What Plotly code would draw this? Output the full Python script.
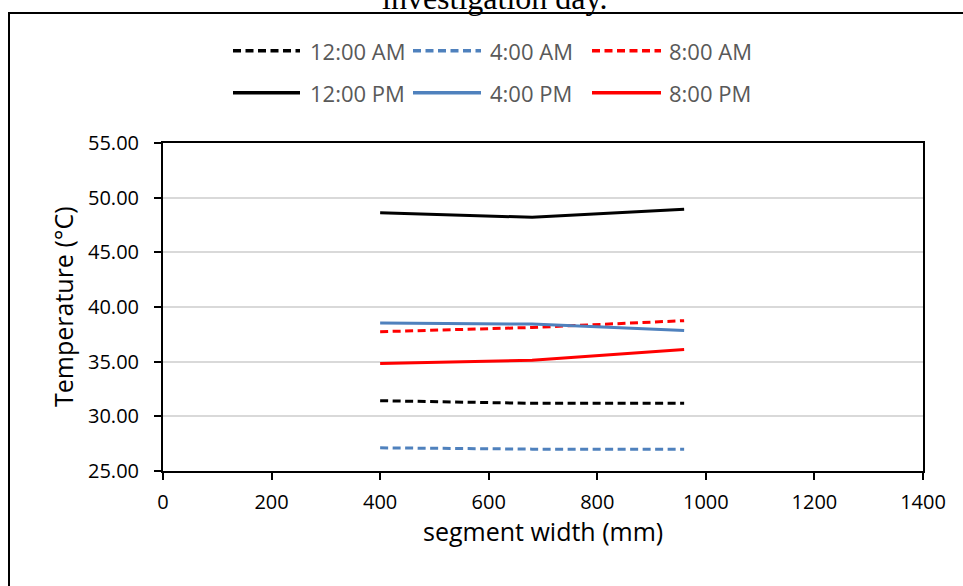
import plotly.graph_objects as go

# ---- data ----
widths = [400, 680, 960]
series_names = ["12:00 AM", "4:00 AM", "8:00 AM", "12:00 PM", "4:00 PM", "8:00 PM"]
temp_1200am = [31.43, 31.19, 31.19]
temp_0400am = [27.12, 27.00, 27.00]
temp_0800am = [37.74, 38.13, 38.75]
temp_1200pm = [48.63, 48.20, 48.94]
temp_0400pm = [38.53, 38.44, 37.86]
temp_0800pm = [34.83, 35.13, 36.11]
x_ticks = [0, 200, 400, 600, 800, 1000, 1200, 1400]
y_ticks = [25, 30, 35, 40, 45, 50, 55]

series_values = [temp_1200am, temp_0400am, temp_0800am,
                 temp_1200pm, temp_0400pm, temp_0800pm]
colors = ["#000000", "#4F81BD", "#FF0000", "#000000", "#4F81BD", "#FF0000"]
DASH = "8px,4.5px"
dashes = [DASH, DASH, DASH, "solid", "solid", "solid"]

W, H = 963, 586
ML, MR, MT, MB = 163, 40, 143, 115
PW, PH = W - ML - MR, H - MT - MB


def px(x):
    return (x - ML) / PW


def py(y):
    return (H - MB - y) / PH


FONT = "Open Sans"

fig = go.Figure()
for name, vals, c, d in zip(series_names, series_values, colors, dashes):
    fig.add_trace(go.Scatter(x=widths, y=vals, mode="lines", name=name,
                             line=dict(color=c, width=3, dash=d),
                             showlegend=False))

shapes = []
annotations = []

# outer chart border (extends past the right/bottom edge of the image)
shapes.append(dict(type="rect", xref="paper", yref="paper",
                   x0=px(9), x1=px(990), y0=py(610), y1=py(13),
                   line=dict(color="black", width=2), fillcolor="rgba(0,0,0,0)",
                   layer="above"))

# custom legend: 3 columns x 2 rows
col_line = [(233, 300, 308), (413, 481, 488), (592, 661, 667)]
row_y = [50.7, 92.7]
for i, (name, c, d) in enumerate(zip(series_names, colors, dashes)):
    r, k = divmod(i, 3)
    x0, x1, xt = col_line[k]
    y = row_y[r]
    shapes.append(dict(type="line", xref="paper", yref="paper",
                       x0=px(x0), x1=px(x1), y0=py(y), y1=py(y),
                       line=dict(color=c, width=3.5, dash=d)))
    annotations.append(dict(text=name, xref="paper", yref="paper",
                            x=px(xt), y=py(y), xanchor="left", yanchor="middle",
                            showarrow=False,
                            font=dict(family=FONT, size=22, color="#595959")))

# title (cut off at the top in the reference)
annotations.append(dict(text="investigation day.", xref="paper", yref="paper",
                        x=px(494), y=py(18), xanchor="center", yanchor="bottom",
                        showarrow=False,
                        font=dict(family="Liberation Serif", size=32, color="black")))

# axis titles
annotations.append(dict(text="segment width (mm)", xref="paper", yref="paper",
                        x=px(543), y=py(531), xanchor="center", yanchor="middle",
                        showarrow=False,
                        font=dict(family=FONT, size=25, color="black")))
annotations.append(dict(text="Temperature (°C)", xref="paper", yref="paper",
                        x=px(63), y=py(307), xanchor="center", yanchor="middle",
                        textangle=-90, showarrow=False,
                        font=dict(family=FONT, size=25, color="black")))

fig.update_layout(
    width=W, height=H,
    margin=dict(l=ML, r=MR, t=MT, b=MB, pad=0),
    paper_bgcolor="white", plot_bgcolor="white",
    shapes=shapes, annotations=annotations,
    showlegend=False,
    font=dict(family=FONT, color="black"),
)
fig.update_xaxes(range=[0, 1400], tickvals=x_ticks, showgrid=False, zeroline=False,
                 showline=True, linecolor="black", linewidth=2, mirror=True,
                 ticks="outside", ticklen=7, tickwidth=2, tickcolor="black",
                 ticklabelstandoff=5,
                 tickfont=dict(family=FONT, size=20, color="black"))
fig.update_yaxes(range=[25, 55], tickvals=y_ticks, tickformat=".2f",
                 showgrid=True, gridcolor="#D9D9D9", gridwidth=1.5, zeroline=False,
                 showline=True, linecolor="black", linewidth=2, mirror=True,
                 ticks="outside", ticklen=7, tickwidth=2, tickcolor="black",
                 ticklabelstandoff=11,
                 tickfont=dict(family=FONT, size=20, color="black"))

fig.write_html("out.html", config={"displayModeBar": False},
               post_script="document.body.style.margin='0';document.body.style.overflow='hidden';")
